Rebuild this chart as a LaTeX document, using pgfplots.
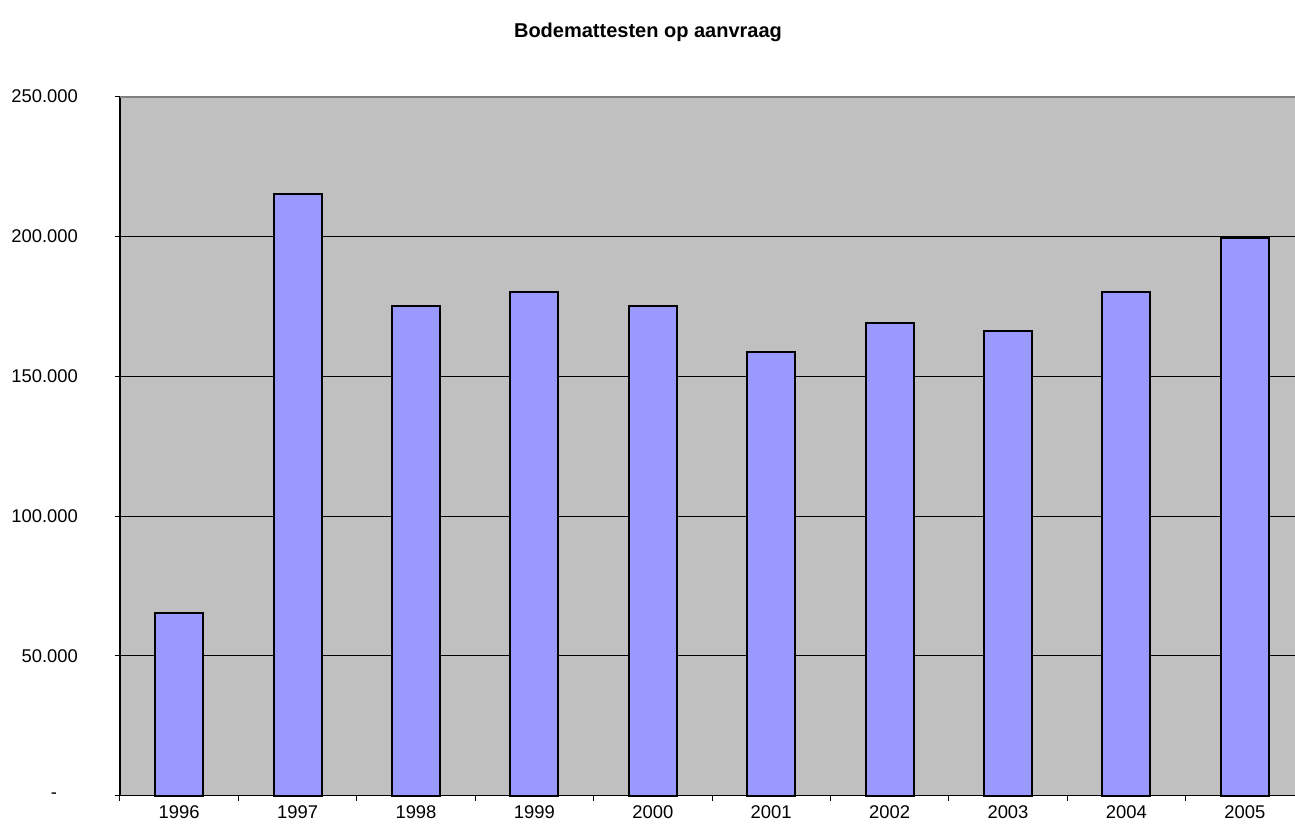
\documentclass[border=0pt]{standalone}
\usepackage{fontspec}
\setmainfont{Liberation Sans}
\usepackage{pgfplots}
\pgfplotsset{compat=1.18}
\definecolor{barblue}{HTML}{9999FF}
\definecolor{plotbg}{HTML}{C0C0C0}
\definecolor{topgray}{HTML}{808080}
\begin{document}
\begin{tikzpicture}
\begin{axis}[
  at={(60pt,18.15pt)}, anchor=south west,
  scale only axis, width=592pt, height=349.6pt,
  xmin=-0.5, xmax=9.5, ymin=0, ymax=250000,
  scaled y ticks=false,
  axis background/.style={fill=plotbg},
  axis x line*=bottom, axis y line*=left,
  axis line style={black, line width=0.7pt},
  xtick={-0.5,0.5,...,9.5},
  x tick label as interval=true,
  xticklabels={1996,1997,1998,1999,2000,2001,2002,2003,2004,2005},
  ytick={0,50000,100000,150000,200000,250000},
  yticklabels={-\hspace{10.5pt}\mbox{},50.000,100.000,150.000,200.000,250.000},
  minor tick num=0,
  tick align=outside, major tick length=2.5pt,
  tick style={black, line width=0.5pt},
  ymajorgrids, grid style={black, line width=0.5pt},
  ticklabel style={font=\fontsize{9.2}{10}\selectfont},
  yticklabel style={xshift=-15pt},
  xticklabel style={yshift=1pt},
  clip=false,
]
\addplot[ybar, bar width=24pt, fill=barblue, draw=black, line width=1pt]
  coordinates {(0,65500) (1,215000) (2,175000) (3,180000) (4,175000)
               (5,158500) (6,169000) (7,166000) (8,180000) (9,199500)};
\draw[topgray, line width=1pt] (rel axis cs:0,1) -- (rel axis cs:1,1);
\end{axis}
\node[font=\fontsize{10}{12}\selectfont\bfseries] at (324pt,400pt) {Bodemattesten op aanvraag};
\pgfresetboundingbox
\path[use as bounding box] (0,0) rectangle (647.5pt,416pt);
\end{tikzpicture}
\end{document}
